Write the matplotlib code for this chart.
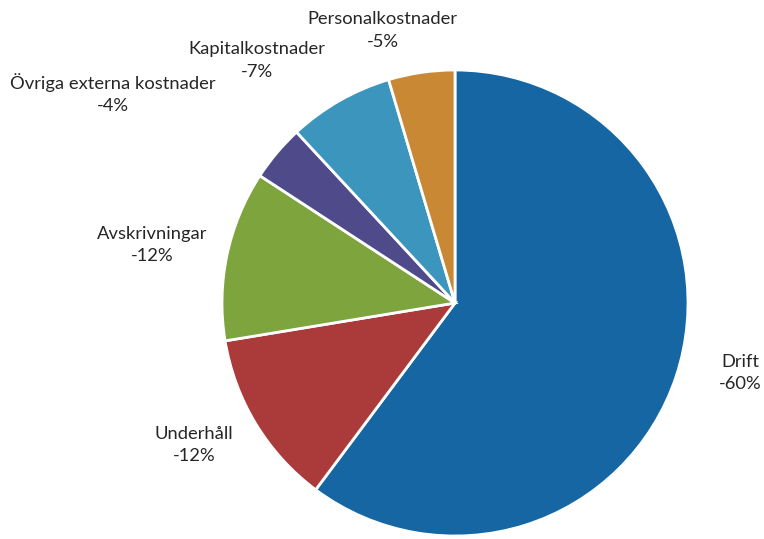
import matplotlib.pyplot as plt

# cost shares (percent), clockwise from 12 o'clock
categories = [
    "Drift",
    "Underhåll",
    "Avskrivningar",
    "Övriga externa kostnader",
    "Kapitalkostnader",
    "Personalkostnader",
]
shares = [60.2, 12.2, 11.8, 3.9, 7.3, 4.6]
colors = ["#1566a2", "#ab3a3b", "#7ea43d", "#4f4b8b", "#3c95bd", "#c98833"]

# label anchor points, in units of the pie radius
label_pos = [
    (1.225, -0.30),
    (-1.12, -0.61),
    (-1.30, 0.25),
    (-1.47, 0.90),
    (-0.85, 1.04),
    (-0.31, 1.17),
]

plt.rcParams["font.family"] = ["Lato", "DejaVu Sans"]

fig = plt.figure(figsize=(7.64, 5.39), dpi=100)
ax = fig.add_axes([0, 0, 1, 1])

ax.pie(
    shares,
    colors=colors,
    startangle=90,
    counterclock=False,
    wedgeprops=dict(edgecolor="white", linewidth=2),
)

for name, val, (x, y) in zip(categories, shares, label_pos):
    ax.text(
        x, y, f"{name}\n-{round(val)}%",
        ha="center", va="center", fontsize=13.2, color="#262626",
        linespacing=1.5,
    )

ax.set_aspect("auto")
ax.set_xlim(-455 / 233, (764 - 455) / 233)
ax.set_ylim(-(539 - 303) / 233, 303 / 233)
ax.axis("off")

fig.savefig("out.png", dpi=100)
